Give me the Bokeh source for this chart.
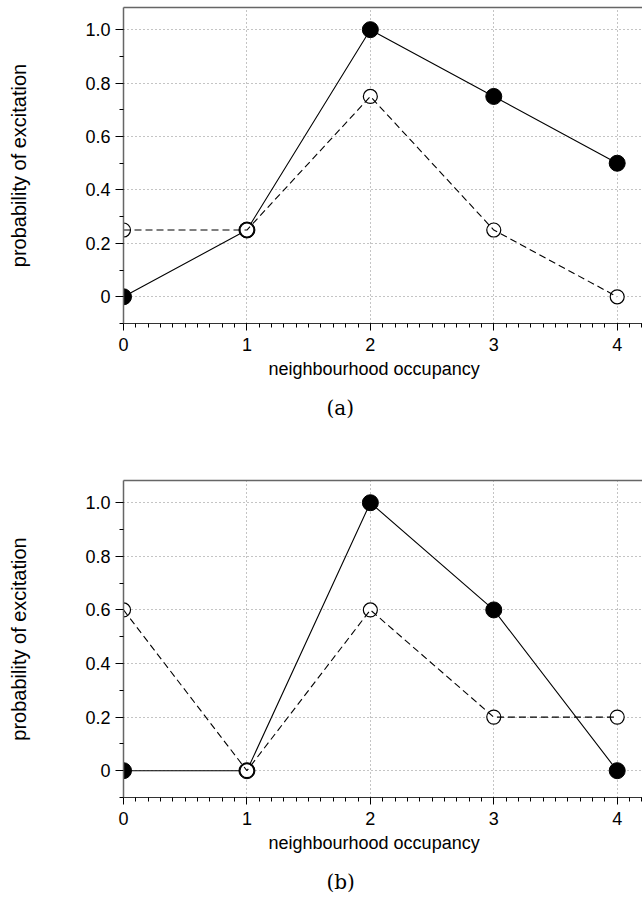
from bokeh.plotting import figure
from bokeh.layouts import column
from bokeh.models import FixedTicker, LinearAxis, Range1d, Title
from bokeh.embed import file_html
from bokeh.resources import INLINE

# ---- data ----
occupancy = [0, 1, 2, 3, 4]
a_solid = [0.0, 0.25, 1.0, 0.75, 0.5]
a_dashed = [0.25, 0.25, 0.75, 0.25, 0.0]
b_solid = [0.0, 0.0, 1.0, 0.6, 0.0]
b_dashed = [0.6, 0.0, 0.6, 0.2, 0.2]

x_major = [0, 1, 2, 3, 4]
x_minor = [0.0, 0.1, 0.2, 0.3, 0.4, 0.5, 0.6, 0.7, 0.8, 0.9,
           1.0, 1.1, 1.2, 1.3, 1.4, 1.5, 1.6, 1.7, 1.8, 1.9,
           2.0, 2.1, 2.2, 2.3, 2.4, 2.5, 2.6, 2.7, 2.8, 2.9,
           3.0, 3.1, 3.2, 3.3, 3.4, 3.5, 3.6, 3.7, 3.8, 3.9,
           4.0, 4.1, 4.2]
y_major = [0, 0.2, 0.4, 0.6, 0.8, 1.0]
y_major_labels = {0: "0", 0.2: "0.2", 0.4: "0.4", 0.6: "0.6", 0.8: "0.8", 1.0: "1.0"}
y_minor = [-0.1, 0.1, 0.3, 0.5, 0.7, 0.9]

x_label = "neighbourhood occupancy"
y_label = "probability of excitation"
captions = ["(a)", "(b)"]

SANS = "Liberation Sans"
SERIF = "DejaVu Serif"


def make_panel(solid, dashed, caption, height, bottom):
    p = figure(width=642, height=height,
               x_range=Range1d(0, 4.205), y_range=Range1d(-0.1, 1.083),
               output_backend="svg", toolbar_location=None,
               min_border_left=123, min_border_right=0, min_border_top=7,
               min_border_bottom=bottom, title=caption, title_location="below")
    p.outline_line_color = None
    p.background_fill_color = "white"
    p.border_fill_color = "white"

    # caption
    p.title.text_font = SERIF
    p.title.text_font_size = "20px"
    p.title.text_font_style = "normal"
    p.title.text_color = "black"
    p.title.align = "left"
    p.title.offset = 203
    p.title.standoff = 22

    xa = p.xaxis[0]
    xa.ticker = FixedTicker(ticks=x_major, minor_ticks=x_minor)
    xa.axis_line_color = "#333333"
    xa.axis_line_width = 1.2
    xa.major_tick_line_color = "black"
    xa.minor_tick_line_color = "black"
    xa.major_tick_out = 7
    xa.major_tick_in = 0
    xa.minor_tick_out = 4
    xa.minor_tick_in = 0
    xa.major_label_text_font = SANS
    xa.major_label_text_font_size = "18px"
    xa.major_label_text_color = "black"
    xa.major_label_standoff = 7

    # x axis title placed as a text panel below the axis
    xt = Title(text=x_label, align="left", offset=145, standoff=7,
               text_font=SANS, text_font_size="18px", text_font_style="normal",
               text_color="black")
    p.add_layout(xt, "below")

    ya = p.yaxis[0]
    ya.ticker = FixedTicker(ticks=y_major, minor_ticks=y_minor)
    ya.major_label_overrides = y_major_labels
    ya.axis_line_color = "#666666"
    ya.axis_line_width = 1.5
    ya.major_tick_line_color = "black"
    ya.minor_tick_line_color = "black"
    ya.major_tick_out = 8
    ya.major_tick_in = 0
    ya.minor_tick_out = 4
    ya.minor_tick_in = 0
    ya.major_label_text_font = SANS
    ya.major_label_text_font_size = "18px"
    ya.major_label_text_color = "black"
    ya.major_label_standoff = 5
    ya.axis_label = y_label
    ya.axis_label_text_font = SANS
    ya.axis_label_text_font_size = "20px"
    ya.axis_label_text_font_style = "normal"
    ya.axis_label_text_color = "black"
    ya.axis_label_standoff = 52

    # top border line
    top = LinearAxis(ticker=FixedTicker(ticks=[]), axis_line_color="#666666",
                     axis_line_width=1.5, major_tick_line_color=None,
                     minor_tick_line_color=None, major_label_text_font_size="0px")
    p.add_layout(top, "above")

    p.xgrid.ticker = FixedTicker(ticks=x_major)
    p.ygrid.ticker = FixedTicker(ticks=y_major)
    for g in (p.xgrid[0], p.ygrid[0]):
        g.grid_line_color = "#888888"
        g.grid_line_dash = "1 3"
        g.grid_line_width = 1

    p.line(occupancy, solid, line_color="black", line_width=1.1)
    p.scatter(occupancy, solid, size=16, marker="circle",
              fill_color="black", line_color="black")
    p.scatter(occupancy, dashed, size=14, marker="circle",
              fill_color="white", line_color="black", line_width=1.2)
    p.line(occupancy, dashed, line_color="black", line_width=1.1, line_dash="7 4")
    return p


pa = make_panel(a_solid, a_dashed, captions[0], 473, 150)
pb = make_panel(b_solid, b_dashed, captions[1], 439, 115)
layout = column(pa, pb, spacing=0)

open("out.html", "w").write(file_html(layout, INLINE))
